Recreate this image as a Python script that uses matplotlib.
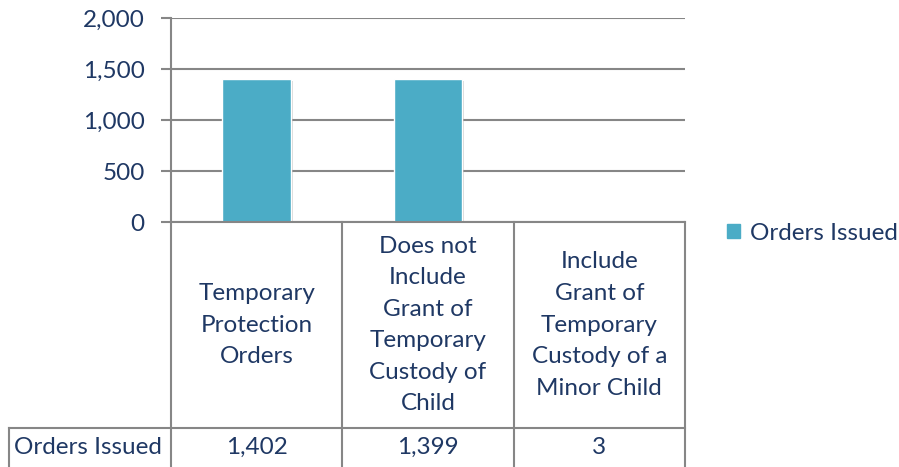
import matplotlib.pyplot as plt
import matplotlib.patheffects as pe
from matplotlib.patches import Patch

# data
categories = ["Temporary\nProtection\nOrders",
              "Does not\nInclude\nGrant of\nTemporary\nCustody of\nChild",
              "Include\nGrant of\nTemporary\nCustody of a\nMinor Child"]
values = [1402, 1399, 3]
value_labels = ["1,402", "1,399", "3"]
series_name = "Orders Issued"
yticks = [0, 500, 1000, 1500, 2000]

bar_color = "#4BACC6"
line_color = "#868686"
text_color = "#1F3864"
fs = 17.5

plt.rcParams['font.family'] = ['Lato', 'DejaVu Sans']

W, H = 899, 467
fig = plt.figure(figsize=(W / 100, H / 100), dpi=100)

# plot area in pixels
left, right, top, bottom = 171, 685, 18, 222
ax = fig.add_axes([left / W, 1 - bottom / H, (right - left) / W, (bottom - top) / H])

x = range(len(values))
bars = ax.bar(x, values, width=0.4, color=bar_color, edgecolor="white", linewidth=1, zorder=3)
for b in bars:
    b.set_path_effects([pe.SimplePatchShadow(offset=(1.5, -1.5), shadow_rgbFace="#999999", alpha=0.4),
                        pe.Normal()])

ax.set_xlim(-0.5, len(values) - 0.5)
ax.set_ylim(0, 2000)
ax.set_yticks(yticks)
ax.set_yticklabels([f"{v:,}" for v in yticks], fontsize=fs, color=text_color)
ax.tick_params(axis='y', length=7, width=1.5, color=line_color, pad=12)
ax.set_xticks([])
ax.grid(axis='y', color=line_color, linewidth=1.5, zorder=0)
for s in ["top", "right", "bottom"]:
    ax.spines[s].set_visible(False)
ax.spines["left"].set_color(line_color)
ax.spines["left"].set_linewidth(1.5)
ax.axhline(0, color=line_color, linewidth=1.5, zorder=4, clip_on=False)

# data table below, in axes coordinates
ph = bottom - top
def ay(py):
    return -(py - bottom) / ph

def axx(px):
    return (px - left) / (right - left)

tbl_bottom = ay(H + 2)
row_top = ay(428)
kw = dict(transform=ax.transAxes, color=line_color, linewidth=1.5, clip_on=False)
for px in [left, 342, 514, right]:
    ax.plot([axx(px), axx(px)], [0, tbl_bottom], **kw)
ax.plot([axx(9), axx(right)], [row_top, row_top], **kw)
ax.plot([axx(9), axx(9)], [row_top, tbl_bottom], **kw)

for i, (cat, val) in enumerate(zip(categories, value_labels)):
    cx = (i + 0.5) / len(values)
    ax.text(cx, ay(325), cat, transform=ax.transAxes, ha="center", va="center",
            fontsize=fs, color=text_color, linespacing=1.62)
    ax.text(cx, ay(447), val, transform=ax.transAxes, ha="center", va="center",
            fontsize=fs, color=text_color)
ax.text(axx(14), ay(447), series_name, transform=ax.transAxes, ha="left", va="center",
        fontsize=fs, color=text_color)

# legend
fig.legend(handles=[Patch(color=bar_color, label=series_name)], loc="center left",
           bbox_to_anchor=(727 / W, 1 - 233 / H), frameon=False, fontsize=fs,
           borderpad=0, borderaxespad=0,
           handlelength=0.55, handleheight=0.55, handletextpad=0.4, labelcolor=text_color)

fig.savefig("out.png", dpi=100)
